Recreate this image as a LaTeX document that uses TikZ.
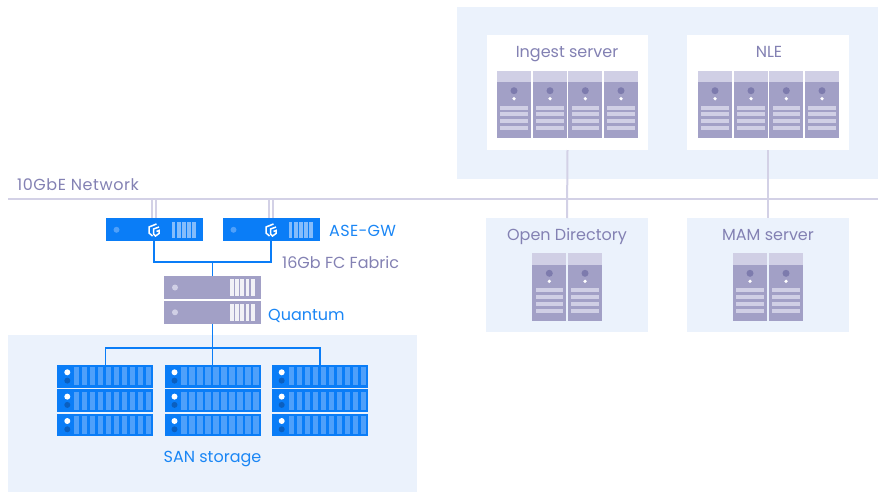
\documentclass[tikz,border=0pt]{standalone}
\usepackage{fontspec}
\setmainfont{Poppins}
\definecolor{panel}{HTML}{EBF2FC}
\definecolor{netline}{HTML}{D3D1E6}
\definecolor{lav}{HTML}{A2A0C6}
\definecolor{lavhead}{HTML}{D0CFE5}
\definecolor{lavdot}{HTML}{7D7BAD}
\definecolor{lavtext}{HTML}{8381B3}
\definecolor{blue}{HTML}{0A7DF7}
\definecolor{bluel}{HTML}{4FA0FA}
\definecolor{blued}{HTML}{0B5FBF}
\definecolor{bluetext}{HTML}{1A86F5}
\tikzset{
  x=1pt,y=-1pt,
  box/.style={rectangle,draw=none,inner sep=0pt,outer sep=0pt,minimum width=#1},
  panelbox/.style={fill=panel,rectangle,inner sep=0,outer sep=0},
  whitebox/.style={fill=white,rectangle,inner sep=0,outer sep=0},
  net/.style={draw=netline,line width=2pt},
  link/.style={draw=blue,line width=1.6pt},
  lbl/.style={font=\fontsize{16}{18}\selectfont,text=lavtext,inner sep=0,anchor=base},
  lblb/.style={font=\fontsize{16}{18}\selectfont,text=bluetext,inner sep=0,anchor=base},
}
\newcommand{\towerbox}[3]{%
  \node[box=34pt,minimum height=67.5pt,anchor=north west,fill=lav] (#1) at (#2,#3) {};
  \fill[lavhead] (#2,#3) rectangle ++(34,11.3);
  \fill[lavdot] (#2+17,#3+20) circle (3.5);
  \fill[white] (#2+17,#3+28) circle (1.8);
  \foreach \yy in {34.8,41.4,48.2,55.2}
    \fill[lavhead] (#2+3.4,#3+\yy) rectangle ++(27.4,4.3);
}
\newcommand{\unitbox}[6]{%
  \node[box=97pt,minimum height=23pt,anchor=north west,fill=#4] (#1) at (#2,#3) {};
  \fill[#5] (#2+11,#3+11.5) circle (3);
  \foreach \xx in {66,71.2,76.4,81.6,86.8}
    \fill[#6] (#2+\xx,#3+3.3) rectangle ++(3.8,16.4);
}
\newcommand{\sanbox}[3]{%
  \node[box=96pt,minimum height=22.6pt,anchor=north west,fill=blue] (#1) at (#2,#3) {};
  \fill[white] (#2+10,#3+7.3) circle (3);
  \fill[blued] (#2+10,#3+15.6) circle (3);
  \foreach \xx in {0,...,9}
    \fill[bluel] (#2+16.8+\xx*8,#3+2.2) rectangle ++(5.2,18.2);
}
\newcommand{\gwlogo}[2]{%
  \begin{scope}[shift={(#1,#2)}]
    \draw[white,line width=1.5pt] (3,-6) -- (-4.5,-3) -- (-4.5,3) -- (-1,6);
    \draw[white,line width=1.5pt] (5.5,-3) -- (0,-1) -- (0,4) -- (2,6) -- (5.5,3.5) -- (5.5,0.5) -- (3,1.5);
  \end{scope}
}
\begin{document}
\begin{tikzpicture}
\useasboundingbox (0,0) rectangle (880,493);
\node[panelbox,minimum width=421pt,minimum height=172pt,anchor=north west] (top) at (457,7) {};
\node[panelbox,minimum width=409pt,minimum height=157pt,anchor=north west] (san) at (8,335) {};
\node[whitebox,minimum width=161pt,minimum height=115pt,anchor=north west] (ingest) at (487,35) {};
\node[whitebox,minimum width=162pt,minimum height=115pt,anchor=north west] (nle) at (687,35) {};
\node[panelbox,minimum width=162pt,minimum height=114pt,anchor=north west] (od) at (486,218) {};
\node[panelbox,minimum width=162pt,minimum height=114pt,anchor=north west] (mam) at (687,218) {};
\coordinate (netL) at (8,199);
\coordinate (netR) at (878,199);
\draw[net] (netL) -- (netR);
\draw[net] (ingest.south) -- (od.north);
\draw[net] (nle.south) -- (mam.north);
\towerbox{i1}{497}{70.7}\towerbox{i2}{533}{70.7}\towerbox{i3}{568.3}{70.7}\towerbox{i4}{604}{70.7}
\towerbox{n1}{698}{70.7}\towerbox{n2}{734}{70.7}\towerbox{n3}{769.3}{70.7}\towerbox{n4}{805}{70.7}
\towerbox{o1}{532.3}{253.3}\towerbox{o2}{568}{253.3}
\towerbox{m1}{733}{253.3}\towerbox{m2}{769}{253.3}
\unitbox{gw1}{105.5}{218.3}{blue}{bluel}{bluel!70!white}
\unitbox{gw2}{222.5}{218.3}{blue}{bluel}{bluel!70!white}
\gwlogo{153.5}{230}\gwlogo{270.5}{230}
\foreach \a/\xo in {gw1/151.7,gw1/155.7,gw2/268.8,gw2/272.8}{
  \coordinate (t) at (\xo,199);
  \draw[draw=netline,line width=1.6pt] (t) -- (\a.north -| t);
}
\unitbox{q1}{164}{276}{lav}{lavhead}{white!85!lav}
\unitbox{q2}{164}{300.8}{lav}{lavhead}{white!85!lav}
\foreach \n/\xo in {a/57.3,b/164.5,c/271.7}{
  \sanbox{\n1}{\xo}{365}
  \sanbox{\n2}{\xo}{389.3}
  \sanbox{\n3}{\xo}{413.7}
}
\coordinate (fab) at (212.5,262);
\draw[link] (gw1.south) |- (fab);
\draw[link] (gw2.south) |- (fab);
\draw[link] (fab) -- (q1.north);
\coordinate (bus) at (212.5,347.7);
\draw[link] (q2.south) -- (b1.north);
\draw[link] (a1.north) |- (bus);
\draw[link] (c1.north) |- (bus);
\node[lbl,anchor=base west] (tnet) at (17,190.5) {\addfontfeatures{LetterSpace=3.5}10GbE Network};
\node[lbl] (ting) at (567,57.5) {Ingest server};
\node[lbl] (tnle) at (769,57.5) {NLE};
\node[lbl] (tod) at (567,240) {Open Directory};
\node[lbl] (tmam) at (768,240) {MAM server};
\node[lblb,anchor=base west] (tgw) at (329,236.5) {\addfontfeatures{LetterSpace=2}ASE-GW};
\node[lbl,anchor=base west] (tfab) at (282,268.5) {16Gb FC Fabric};
\node[lblb,anchor=base west] (tq) at (268,320) {Quantum};
\node[lblb] (tsan) at (212.5,462.5) {SAN storage};
\end{tikzpicture}
\end{document}
